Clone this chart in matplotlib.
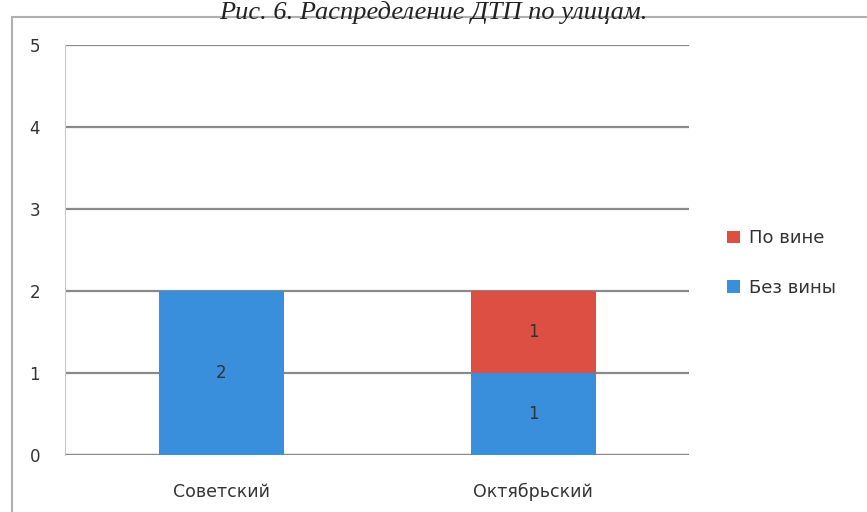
import matplotlib.pyplot as plt
from matplotlib.patches import Rectangle

# данные
streets = ['Советский', 'Октябрьский']
bez_viny = [2, 1]
po_vine = [0, 1]
y_ticks = [0, 1, 2, 3, 4, 5]

col_blue = '#3a8fdc'
col_red = '#de4f43'

plt.rcParams['font.family'] = ['DejaVu Sans']

fig = plt.figure(figsize=(8.67, 5.12), dpi=100)
ax = fig.add_axes([0.075, 0.111, 0.72, 0.801])

x = list(range(len(streets)))
b1 = ax.bar(x, bez_viny, width=0.4, color=col_blue, label='Без вины', zorder=3)
b2 = ax.bar(x, po_vine, width=0.4, bottom=bez_viny, color=col_red, label='По вине', zorder=3)

# подписи значений
for i in x:
    if bez_viny[i] > 0:
        ax.text(i, bez_viny[i] / 2, str(bez_viny[i]), ha='center', va='center',
                fontsize=12, color='#333333', zorder=4)
    if po_vine[i] > 0:
        ax.text(i, bez_viny[i] + po_vine[i] / 2, str(po_vine[i]), ha='center', va='center',
                fontsize=12, color='#333333', zorder=4)

ax.set_xlim(-0.5, 1.5)
ax.set_ylim(0, 5)
ax.set_yticks(y_ticks)
ax.set_xticks(x)
ax.set_xticklabels(streets, fontsize=12.5, color='#333333')
ax.tick_params(axis='y', labelsize=12, colors='#333333', length=0, pad=18)
ax.tick_params(axis='x', length=0, pad=20)
ax.grid(axis='y', color='#8a8a8a', linewidth=1.6, zorder=0)
for s in ['top', 'right', 'bottom']:
    ax.spines[s].set_visible(False)
ax.spines['left'].set_color('#c8c8c8')
ax.axhline(0, color='#8a8a8a', linewidth=1.6, zorder=2)

handles = [b2, b1]
ax.legend(handles, ['По вине', 'Без вины'], loc='center left', bbox_to_anchor=(1.035, 0.468),
          frameon=False, fontsize=13, handlelength=0.7, handleheight=0.7, handletextpad=0.5,
          labelspacing=1.75, labelcolor='#333333')

# рамка диаграммы
fig.patches.append(Rectangle((0.014, -0.01), 1.0, 0.977, transform=fig.transFigure,
                             fill=False, edgecolor='#b0b0b0', linewidth=1.5))

# подпись рисунка сверху
fig.text(0.5, 0.999, 'Рис. 6. Распределение ДТП по улицам.', ha='center', va='top',
         fontsize=19, family='Liberation Serif', style='italic', color='#222222')

fig.savefig('out.png', dpi=100)
